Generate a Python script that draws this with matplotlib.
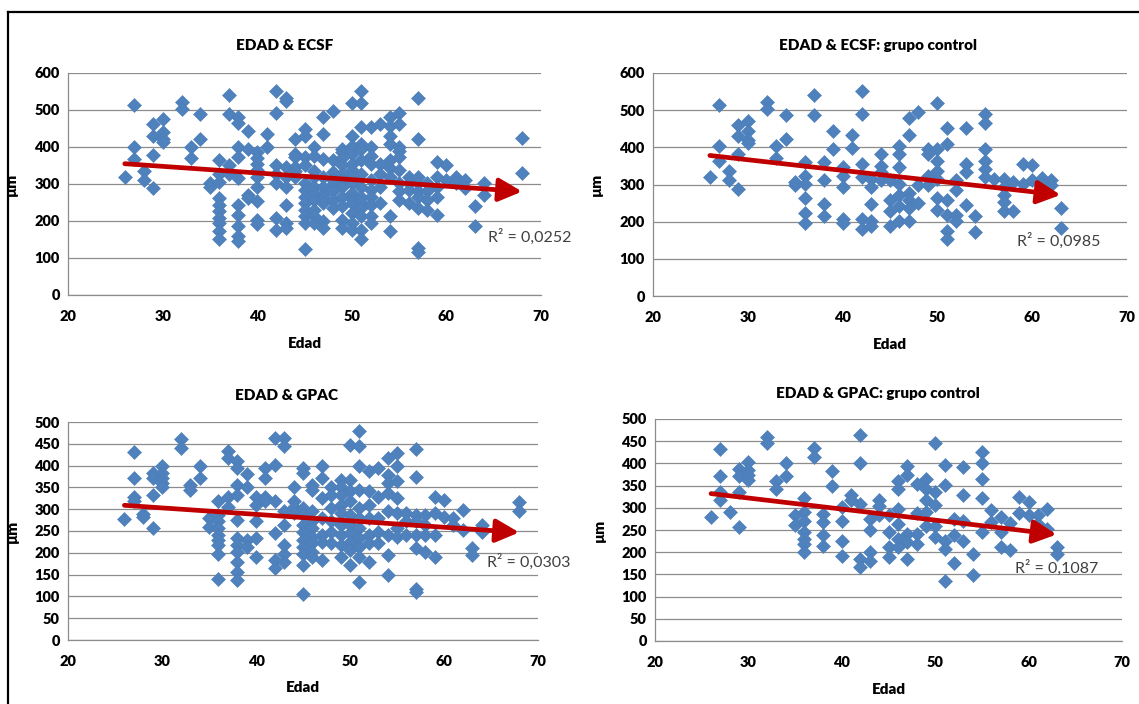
import matplotlib
matplotlib.use("Agg")
import matplotlib.pyplot as plt
from matplotlib.lines import Line2D
import numpy as np

plt.rcParams['font.family'] = ['Lato', 'DejaVu Sans']

# ---------------- data ----------------
# EDAD & ECSF (all subjects): age -> list of values (µm)
ecsf_all = {
    26: [320], 27: [513, 401, 368], 28: [336, 311], 29: [462, 431, 379, 288],
    30: [475, 440, 422, 413], 32: [522, 502], 33: [401, 371], 34: [488, 422],
    35: [302, 293], 36: [364, 328, 306, 262, 244, 226, 209, 195, 173, 151],
    37: [540, 488, 351, 328], 38: [480, 466, 400, 373, 315, 244, 217, 186, 160, 146],
    39: [444, 395, 271, 262], 40: [386, 369, 355, 338, 320, 293, 253, 204, 191],
    41: [435, 401], 42: [551, 493, 351, 328, 302, 209, 177],
    43: [533, 524, 346, 320, 293, 244, 195, 182], 44: [422, 381, 373, 346, 336, 320],
    45: [448, 431, 373, 351, 302, 284, 266, 248, 231, 213, 195, 124],
    46: [400, 377, 336, 320, 293, 275, 257, 231, 213, 195],
    47: [480, 435, 367, 320, 293, 271, 262, 248, 200, 182],
    48: [497, 364, 333, 311, 300, 280, 257, 235],
    49: [395, 386, 369, 351, 328, 310, 293, 266, 240, 204, 182],
    50: [520, 431, 404, 382, 355, 338, 320, 302, 275, 260, 248, 222, 195, 177],
    51: [551, 520, 453, 408, 395, 364, 328, 293, 266, 250, 235, 213, 177, 151],
    52: [453, 400, 377, 355, 311, 285, 266, 244, 213, 195],
    53: [462, 355, 328, 293, 248], 54: [480, 458, 431, 409, 364, 342, 320, 213, 173],
    55: [493, 462, 400, 390, 373, 337, 302, 280, 257], 56: [320, 302, 284, 248],
    57: [533, 422, 320, 302, 280, 266, 235, 128, 115], 58: [302, 280, 257, 231],
    59: [360, 320, 293, 266, 217], 60: [351, 311], 61: [320, 302], 62: [311, 289],
    63: [240, 186], 64: [302, 271], 68: [425, 330],
}

# EDAD & ECSF: control group
ecsf_ctrl = {
    26: [320], 27: [513, 403, 364], 28: [337, 311], 29: [460, 430, 381, 289],
    30: [471, 443, 421, 412], 32: [522, 504], 33: [403, 372], 34: [487, 423],
    35: [298, 306], 36: [361, 324, 302, 263, 223, 197], 37: [540, 487],
    38: [361, 311, 247, 214], 39: [445, 395], 40: [346, 324, 293, 206, 197],
    41: [432, 399], 42: [551, 491, 355, 320, 206, 179], 43: [315, 293, 247, 201, 188],
    44: [381, 351, 333, 311], 45: [311, 258, 228, 188],
    46: [403, 381, 346, 302, 272, 241, 201], 47: [478, 434, 276, 258, 236, 201],
    48: [496, 300, 250], 49: [395, 381, 324, 300],
    50: [520, 395, 364, 337, 315, 263, 232], 51: [452, 408, 258, 219, 175, 153],
    52: [311, 285, 219, 201], 53: [452, 355, 333, 245], 54: [214, 173],
    55: [491, 465, 395, 364, 342, 320], 56: [315], 57: [315, 293, 272, 254, 228],
    58: [306, 228], 59: [355, 302], 60: [352, 311], 61: [317, 302], 62: [311, 298],
    63: [238, 184],
}

# EDAD & GPAC (all subjects)
gpac_all = {
    26: [277], 27: [432, 372, 329, 318], 28: [288, 283], 29: [383, 372, 333, 258],
    30: [398, 383, 372, 360, 352], 32: [460, 441], 33: [356, 345], 34: [398, 372],
    35: [279, 260], 36: [319, 287, 272, 256, 241, 229, 218, 198, 141],
    37: [433, 418, 329, 306], 38: [410, 395, 356, 333, 275, 233, 218, 202, 179, 156, 137],
    39: [381, 352, 229, 214], 40: [329, 310, 272, 233, 191], 41: [395, 372, 329, 318],
    42: [464, 402, 318, 245, 183, 164], 43: [464, 445, 295, 264, 218, 198, 179],
    44: [352, 318, 306, 291],
    45: [395, 383, 302, 287, 264, 248, 229, 214, 198, 172, 106],
    46: [356, 345, 295, 272, 256, 237, 222, 202, 191],
    47: [398, 372, 325, 279, 241, 225, 183], 48: [352, 333, 302, 272, 248, 222],
    49: [368, 352, 333, 310, 291, 264, 241, 218, 191],
    50: [448, 368, 341, 318, 287, 264, 245, 225, 206, 172],
    51: [479, 445, 398, 345, 302, 279, 256, 233, 214, 191, 133],
    52: [387, 341, 310, 279, 241, 222, 179], 53: [395, 329, 279, 248, 222],
    54: [418, 379, 360, 337, 295, 241, 195, 148],
    55: [429, 398, 364, 325, 291, 256, 237], 56: [291, 272, 241],
    57: [437, 375, 287, 272, 241, 210, 118, 110], 58: [287, 264, 241, 202],
    59: [329, 291, 241, 191], 60: [322, 283], 61: [279, 264], 62: [298, 252],
    63: [210, 195], 64: [264, 248], 68: [316, 295],
}

# EDAD & GPAC: control group
gpac_ctrl = {
    26: [279], 27: [432, 372, 336, 317], 28: [290], 29: [388, 372, 336, 256],
    30: [403, 385, 373, 362], 32: [460, 445], 33: [360, 343], 34: [402, 372],
    35: [284, 262], 36: [322, 290, 271, 245, 230, 219, 200], 37: [434, 415],
    38: [287, 268, 238, 215], 39: [382, 349], 40: [302, 271, 226, 192],
    41: [328, 317], 42: [465, 402, 309, 185, 166], 43: [275, 249, 200, 181],
    44: [317, 305, 283], 45: [283, 245, 211, 189],
    46: [360, 343, 298, 264, 230, 211], 47: [394, 373, 241, 222, 185],
    48: [354, 289, 241, 219], 49: [364, 343, 317, 290, 260],
    50: [447, 336, 307, 260, 234], 51: [397, 351, 226, 207, 136],
    52: [275, 238, 176], 53: [392, 328, 271, 226], 54: [196, 149],
    55: [425, 400, 364, 322, 245], 56: [294, 268], 57: [279, 245, 211],
    58: [266, 204], 59: [324, 289], 60: [314, 284], 61: [284, 264], 62: [298, 253],
    63: [211, 196],
}

# linear trend (slope, intercept) and R² of each panel
trend_ecsf_all = (-1.79, 401.4)
trend_ecsf_ctrl = (-2.87, 452.7)
trend_gpac_all = (-1.48, 347.4)
trend_gpac_ctrl = (-2.49, 396.7)
r2_labels = ["R² = 0,0252", "R² = 0,0985", "R² = 0,0303", "R² = 0,1087"]

titles = ["EDAD & ECSF", "EDAD & ECSF: grupo control",
          "EDAD & GPAC", "EDAD & GPAC: grupo control"]


def flatten(d):
    xs, ys = [], []
    for age, vals in d.items():
        xs.extend([age] * len(vals))
        ys.extend(vals)
    return np.array(xs, float), np.array(ys, float)


W, H = 1139, 704
fig = plt.figure(figsize=(W / 100, H / 100), dpi=100)
fig.patch.set_facecolor('white')


def px_axes(left, right, top, bottom):
    return fig.add_axes([left / W, 1 - bottom / H, (right - left) / W, (bottom - top) / H])


panels = [
    dict(data=ecsf_all, trend=trend_ecsf_all, ymax=600, ystep=100,
         box=(68, 541, 73, 295), title_x=0.459, title_y=1.125, r2_pos=(64.4, 157)),
    dict(data=ecsf_ctrl, trend=trend_ecsf_ctrl, ymax=600, ystep=100,
         box=(653, 1127, 73, 296), title_x=0.475, title_y=1.125, r2_pos=(58.4, 148)),
    dict(data=gpac_all, trend=trend_gpac_all, ymax=500, ystep=50,
         box=(68, 538, 422, 640), title_x=0.464, title_y=1.12, r2_pos=(64.6, 179)),
    dict(data=gpac_ctrl, trend=trend_gpac_ctrl, ymax=500, ystep=50,
         box=(655, 1122, 419, 641), title_x=0.477, title_y=1.113, r2_pos=(58.5, 164)),
]

grid_col = '#8c8c8c'
for i, p in enumerate(panels):
    ax = px_axes(*p['box'])
    x, y = flatten(p['data'])
    ax.plot(x, y, linestyle='none', marker='D', markersize=7,
            color='#4F81BD', markeredgecolor='#4A7EBB', markeredgewidth=0.4,
            zorder=3, clip_on=False)

    slope, intercept = p['trend']
    x0, x1 = x.min(), x.max()
    ax.annotate('', xy=(x1, slope * x1 + intercept), xytext=(x0, slope * x0 + intercept),
                arrowprops=dict(arrowstyle='-|>,head_length=1.0,head_width=0.5',
                                color='#C00000', lw=3.4, mutation_scale=14,
                                shrinkA=0, shrinkB=0),
                zorder=4)

    ax.set_xlim(20, 70)
    ax.set_ylim(0, p['ymax'])
    ax.set_xticks(range(20, 71, 10))
    ax.set_yticks(range(0, p['ymax'] + 1, p['ystep']))
    ax.yaxis.grid(True, color=grid_col, linewidth=0.9)
    ax.set_axisbelow(True)
    for s in ('top', 'right'):
        ax.spines[s].set_visible(False)
    for s in ('left', 'bottom'):
        ax.spines[s].set_color(grid_col)
        ax.spines[s].set_linewidth(0.9)
    ax.tick_params(axis='both', length=0, labelsize=10.5, colors='black')
    ax.tick_params(axis='x', pad=11)
    ax.tick_params(axis='y', pad=6)
    for lab in ax.get_xticklabels() + ax.get_yticklabels():
        lab.set_fontweight('heavy')

    ax.text(p['title_x'], p['title_y'], titles[i], transform=ax.transAxes,
            ha='center', va='center', fontsize=11, fontweight='heavy')
    ax.set_xlabel('Edad', fontsize=11, fontweight='heavy')
    ax.xaxis.set_label_coords(0.5, -0.19)
    ax.set_ylabel('µm', fontsize=11, fontweight='heavy')
    ax.yaxis.set_label_coords(-0.105, 0.5)

    ax.text(p['r2_pos'][0], p['r2_pos'][1], r2_labels[i], ha='left', va='center',
            fontsize=11.5, color='#404040', zorder=5)

# outer frame
fig.add_artist(Line2D([8 / W, 8 / W], [0, 1 - 12 / H], transform=fig.transFigure,
                      color='black', lw=1.6))
fig.add_artist(Line2D([8 / W, 1], [1 - 12 / H, 1 - 12 / H], transform=fig.transFigure,
                      color='black', lw=1.6))

fig.savefig('out.png', dpi=100, facecolor='white')
